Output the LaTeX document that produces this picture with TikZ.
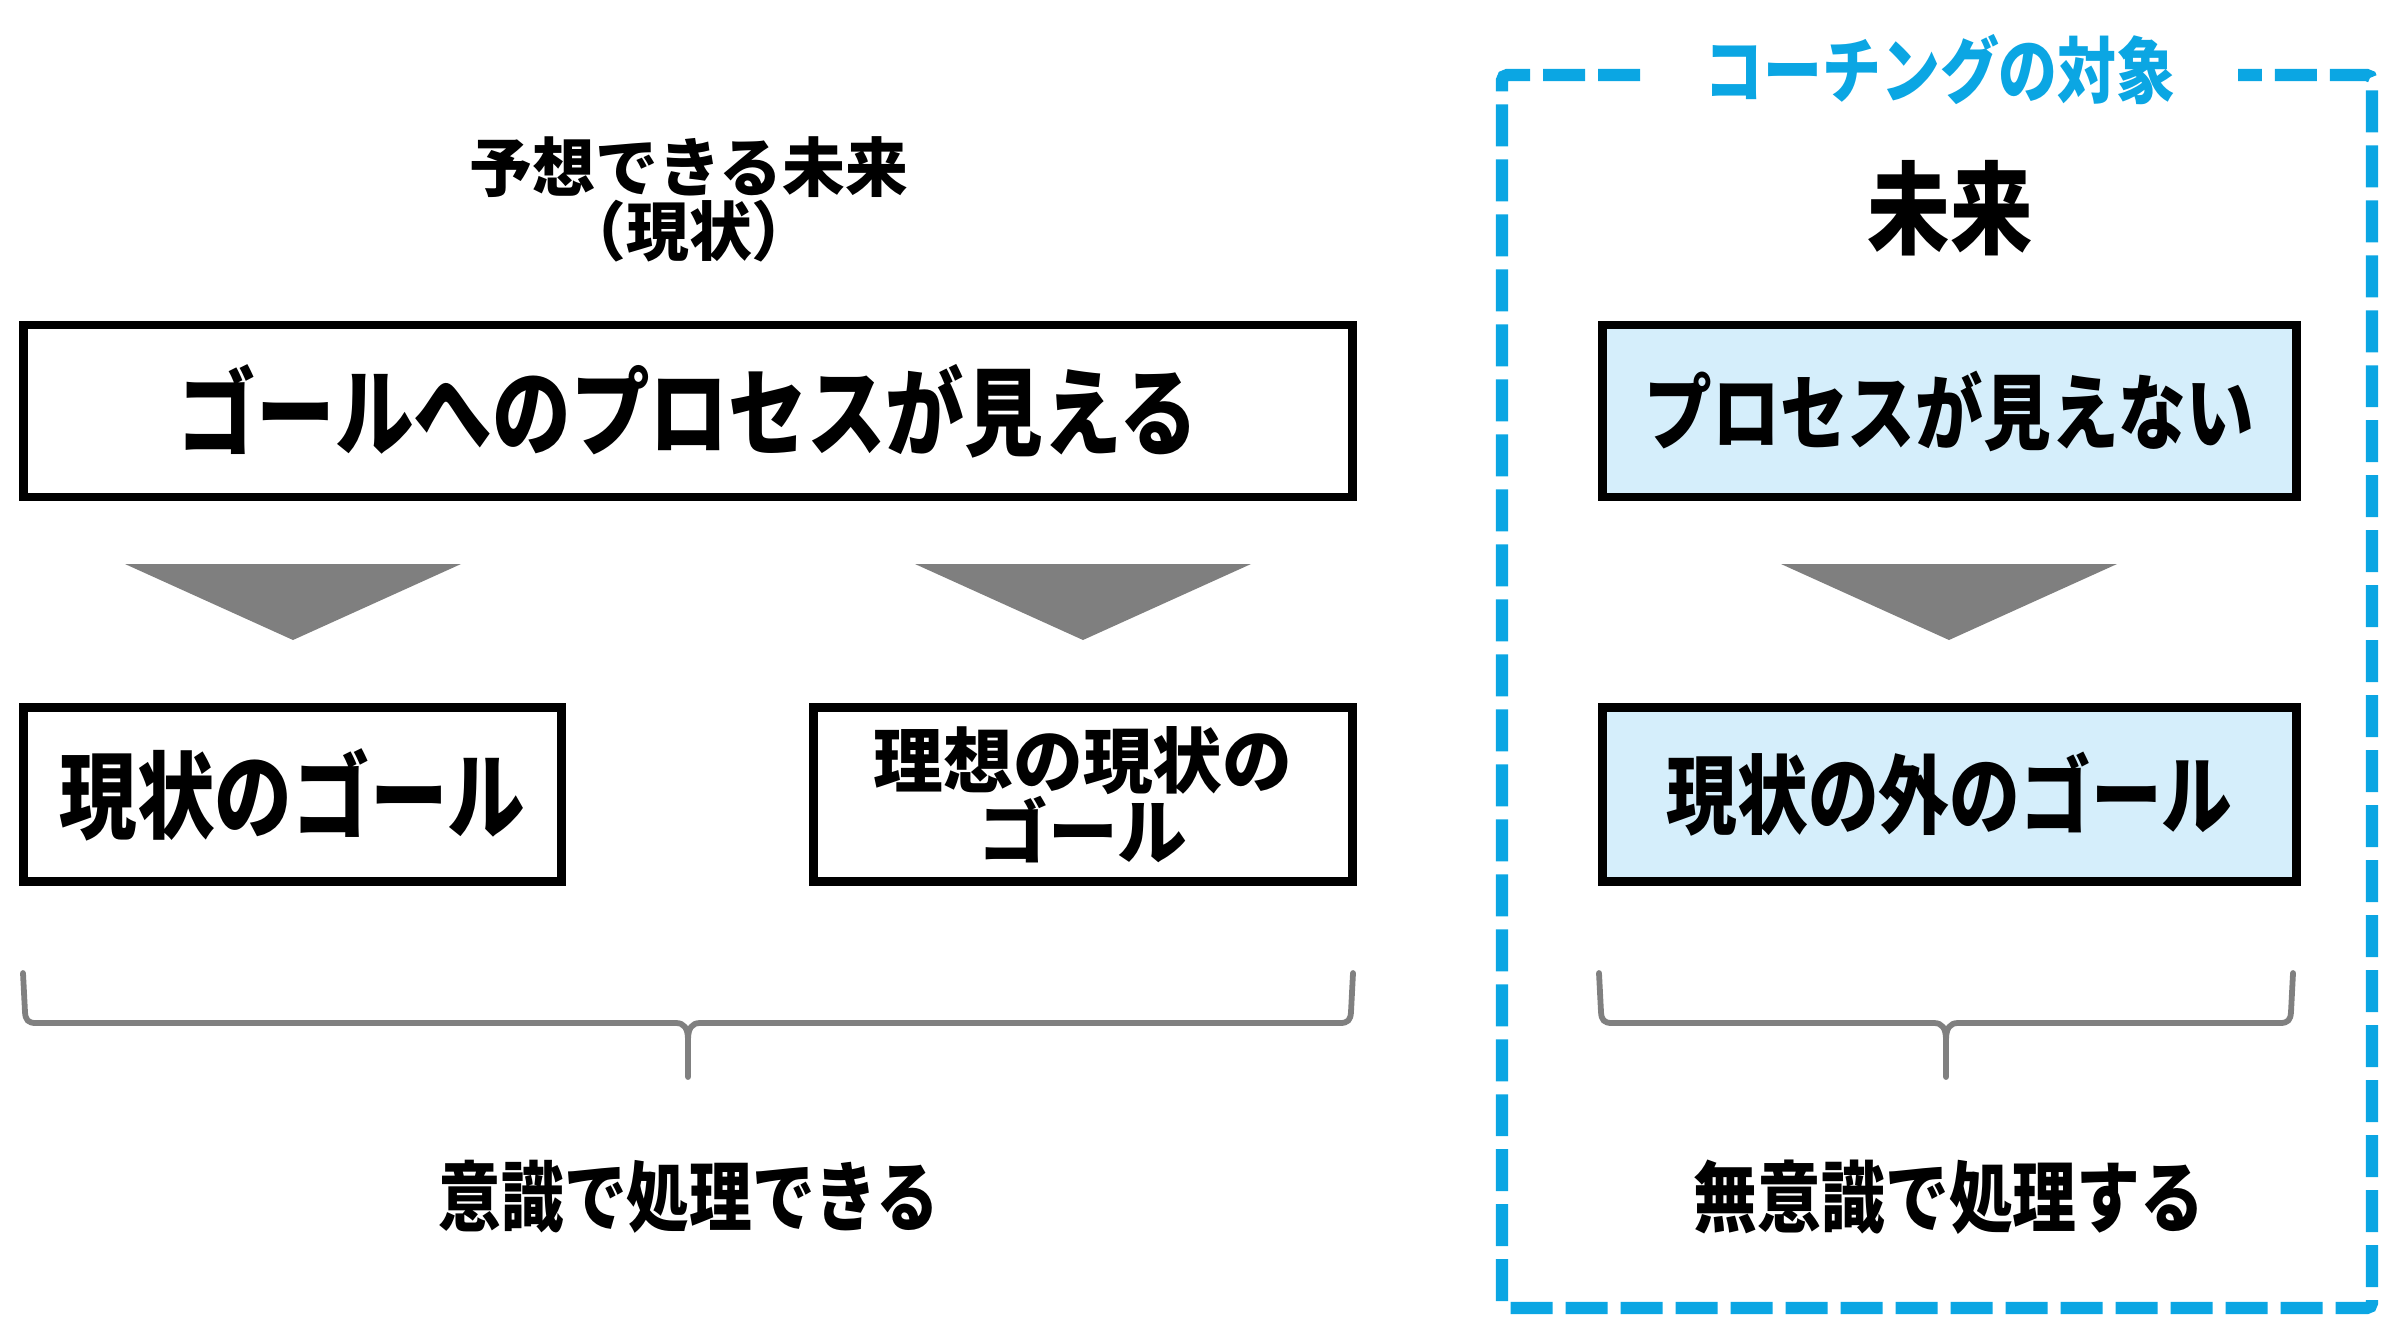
\documentclass[tikz,border=0pt]{standalone}
\usepackage{fontspec}
\IfFontExistsTF{Noto Sans CJK JP Black}
  {\newfontfamily\jpheavy{Noto Sans CJK JP Black}[FakeStretch=0.82]
   \newfontfamily\jpwide{Noto Sans CJK JP Black}[FakeStretch=0.98]}
  {\IfFontExistsTF{Noto Sans CJK JP Bold}
     {\newfontfamily\jpheavy{Noto Sans CJK JP Bold}[FakeStretch=0.82, FakeBold=1.3]
      \newfontfamily\jpwide{Noto Sans CJK JP Bold}[FakeStretch=0.98, FakeBold=1.3]}
     {\newfontfamily\jpheavy{Noto Sans CJK JP}[FakeStretch=0.82, FakeBold=2.5]
      \newfontfamily\jpwide{Noto Sans CJK JP}[FakeStretch=0.98, FakeBold=2.5]}}
% heavy Japanese text at a given size
\newcommand\jpsz[1]{\jpheavy\fontsize{#1}{#1}\selectfont}
% two-line captions: line pitch equal to the size
\newcommand\jpwsz[1]{\jpwide\fontsize{#1}{#1}\selectfont}
\definecolor{frameblue}{HTML}{0BA6E3}
\definecolor{boxblue}{HTML}{D5EEFB}
\definecolor{arrowgray}{HTML}{7F7F7F}
\definecolor{bracegray}{HTML}{808080}
\begin{document}
\begin{tikzpicture}[x=0.02cm, y=-0.02cm,
  box/.style={draw=black, line width=5pt, fill=white, inner sep=0pt, align=center},
  bluebox/.style={box, fill=boxblue},
  tri/.style={fill=arrowgray},
  brace/.style={draw=bracegray, line width=3.3pt, line cap=round, line join=round},
  frame/.style={draw=frameblue, line width=7pt, dash pattern=on 0.84cm off 0.26cm, rounded corners=3pt},
  caption/.style={inner sep=0pt, align=center}]
\useasboundingbox (0,0) rectangle (2383,1320);

% left column: what can be foreseen
\node[caption, font=\jpwsz{36.5pt}] (hdrL) at (689,199) {予想できる未来\\（現状）};
\node[box, minimum width=26.58cm, minimum height=3.44cm, font=\jpsz{54.6pt}] (main) at (688,411) {ゴールへのプロセスが見える};
\node[box, minimum width=10.76cm, minimum height=3.48cm, font=\jpsz{53.9pt}] (goalA) at (292.5,794.5) {現状のゴール};
\node[box, minimum width=10.78cm, minimum height=3.48cm, font=\jpwsz{40.5pt}] (goalB) at (1083,794.5) {理想の現状の\\ゴール};

\fill[tri] (125,564) -- (461,564) -- (293,640) -- cycle;
\fill[tri] (915,564) -- (1251,564) -- (1083,640) -- cycle;

% brace under the left column
\draw[brace] (23,973) -- (25,1012) .. controls (25.5,1020) and (28,1023) .. (36,1023) -- (676,1023)
  .. controls (684,1023) and (688,1028) .. (688,1040) -- (688,1077);
\draw[brace] (1353,973) -- (1351,1012) .. controls (1350.5,1020) and (1348,1023) .. (1340,1023) -- (700,1023)
  .. controls (692,1023) and (688,1028) .. (688,1040);
\node[caption, font=\jpsz{43.5pt}] (noteL) at (689,1197) {意識で処理できる};

% right column: the coaching area
\draw[frame] (1640,75) -- (1502,75) -- (1502,1308) -- (2372,1308) -- (2372,75) -- (2238,75);
\node[caption, font=\jpsz{40.9pt}, text=frameblue] (title) at (1940,70) {コーチングの対象};

\node[caption, font=\jpsz{57.3pt}] (hdrR) at (1950,208) {未来};
\node[bluebox, minimum width=13.88cm, minimum height=3.44cm, font=\jpsz{47pt}] (procR) at (1949.5,411) {プロセスが見えない};
\node[bluebox, minimum width=13.88cm, minimum height=3.48cm, font=\jpsz{49.1pt}] (goalR) at (1949.5,794.5) {現状の外のゴール};

\fill[tri] (1781,564) -- (2117,564) -- (1949,640) -- cycle;

\draw[brace] (1599,973) -- (1601,1012) .. controls (1601.5,1020) and (1604,1023) .. (1612,1023) -- (1934,1023)
  .. controls (1942,1023) and (1946,1028) .. (1946,1040) -- (1946,1077);
\draw[brace] (2293,973) -- (2291,1012) .. controls (2290.5,1020) and (2288,1023) .. (2280,1023) -- (1958,1023)
  .. controls (1950,1023) and (1946,1028) .. (1946,1040);
\node[caption, font=\jpsz{44.3pt}] (noteR) at (1949,1197) {無意識で処理する};
\end{tikzpicture}
\end{document}
